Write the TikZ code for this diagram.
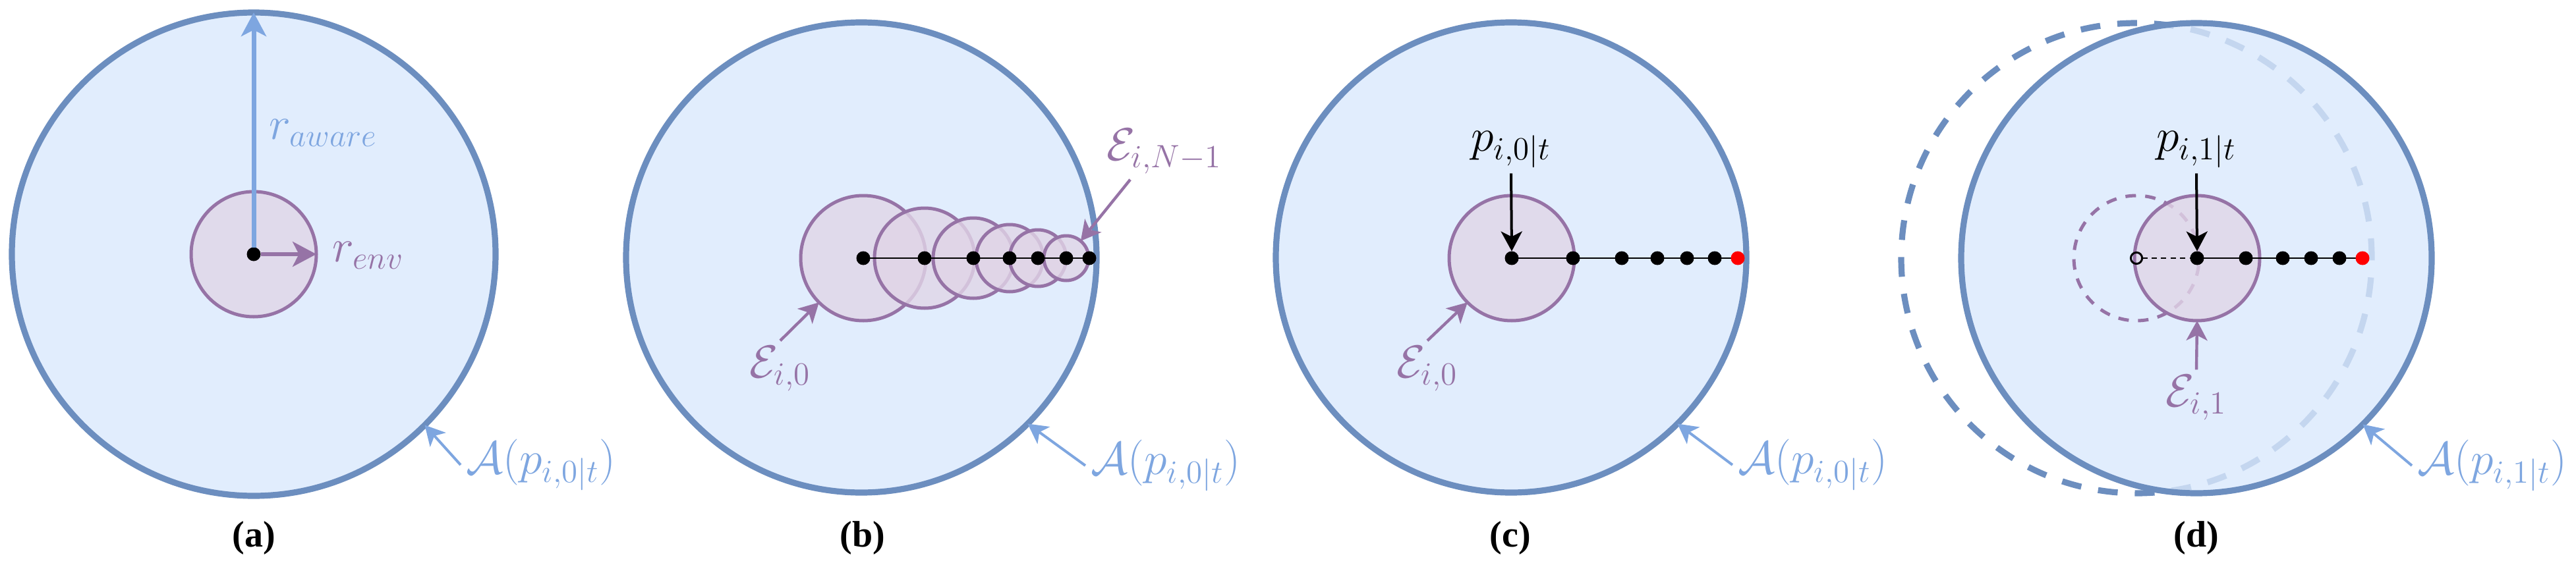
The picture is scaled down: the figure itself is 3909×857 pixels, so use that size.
\RequirePackage{fix-cm}
\documentclass[tikz,border=0pt]{standalone}
\usepackage{fontspec}
\newfontfamily\capfont{Liberation Serif}
\usetikzlibrary{arrows.meta,calc}
\definecolor{awfill}{HTML}{DAE8FC}
\definecolor{awline}{HTML}{6C8EBF}
\definecolor{awlab}{HTML}{7EA6E0}
\definecolor{envfill}{HTML}{E1D5E7}
\definecolor{envline}{HTML}{9673A6}
\tikzset{
  aware/.style={circle, draw=awline, line width=2.3pt, fill=awfill, fill opacity=0.8, inner sep=0pt, outer sep=0pt, minimum size={#1*0.5pt}},
  oldaware/.style={circle, draw=awline, line width=2.3pt, dash pattern=on 7.5pt off 6.5pt, inner sep=0pt, outer sep=0pt, minimum size={#1*0.5pt}},
  env/.style={circle, draw=envline, line width=1.25pt, fill=envfill, fill opacity=0.8, inner sep=0pt, outer sep=0pt, minimum size={#1*0.5pt}},
  oldenv/.style={circle, draw=envline, line width=1.25pt, dash pattern=on 4pt off 3.5pt, inner sep=0pt, outer sep=0pt, minimum size={#1*0.5pt}},
  dot/.style={circle, fill=black, inner sep=0pt, outer sep=0pt, minimum size=5.25pt},
  reddot/.style={dot, fill=red},
  opendot/.style={circle, draw=black, line width=0.75pt, inner sep=0pt, outer sep=0pt, minimum size=4.3pt},
  mlab/.style={inner sep=2pt, font=\fontsize{17.5}{21}\selectfont},
  alab/.style={mlab, text=awlab},
  elab/.style={mlab, text=envline},
  plab/.style={mlab, text=black},
  caption/.style={inner sep=0pt, font=\capfont\bfseries\fontsize{14}{17}\selectfont},
  bigtip/.style={-{Stealth[length=9pt,width=9.5pt,inset=2.4pt]}},
  tip/.style={-{Stealth[length=7.5pt,width=8pt,inset=2pt]}},
  aarrow/.style={tip, draw=awlab, line width=1pt},
  rarrow/.style={bigtip, draw=awlab, line width=1.75pt},
  envarrow/.style={bigtip, draw=envline, line width=1.4pt},
  earrow/.style={tip, draw=envline, line width=1.1pt},
  parrow/.style={tip, draw=black, line width=1pt},
  chain/.style={draw=black, line width=0.7pt},
  chaindash/.style={draw=black, line width=0.6pt, dash pattern=on 2pt off 1.6pt},
}
\begin{document}
\begin{tikzpicture}[x=0.25pt,y=-0.25pt]
\useasboundingbox (0,0) rectangle (3909,857);
%% ---------- (a)
\node[aware=367] (A1) at (385,386) {};
\node[env=95] (S1) at (385,386) {};
\node[dot] (c1) at (385,386) {};
\draw[rarrow] (c1) -- (A1.north);
\draw[envarrow] (c1) -- (S1.east);
\node[alab, anchor=west] (ra) at (400,202) {$r_{aware}$};
\node[elab, anchor=west] (re) at (496,388) {$r_{env}$};
\node[alab] (L1) at (821,706) {$\mathcal{A}(p_{i,0|t})$};
\draw[aarrow] (L1.west) -- (A1.-45);
\node[caption] (ca) at (385,817) {(a)};
%% ---------- (b)
\node[aware=357] (A2) at (1307,391) {};
\node[env=95] (E21) at (1310,392) {};
\node[env=76] (E22) at (1403,392) {};
\node[env=61] (E23) at (1477,392) {};
\node[env=51] (E24) at (1532,392) {};
\node[env=43] (E25) at (1575,392) {};
\node[env=34] (E26) at (1618,392) {};
\coordinate (b0) at (1310,392);
\coordinate (b6) at (1653,392);
\draw[chain] (b0) -- (b6);
\foreach \x [count=\i] in {1310,1403,1477,1532,1575,1618,1653}
  \node[dot] (bd\i) at (\x,392) {};
\node[elab] (LE20) at (1184,560) {$\mathcal{E}_{i,0}$};
\draw[earrow] (LE20.north) -- (E21.-135);
\node[elab] (LE2N) at (1767,230) {$\mathcal{E}_{i,N-1}$};
\draw[earrow] ([xshift=11pt]LE2N.south west) -- (E26.50);
\node[alab] (L2) at (1769,707) {$\mathcal{A}(p_{i,0|t})$};
\draw[aarrow] (L2.west) -- (A2.-45);
\node[caption] (cb) at (1309,817) {(b)};
%% ---------- (c)
\node[aware=357] (A3) at (2293,391) {};
\node[env=95] (S3) at (2294,392) {};
\coordinate (c0) at (2294,392);
\coordinate (c6) at (2637,392);
\draw[chain] (c0) -- (c6);
\foreach \x [count=\i] in {2294,2387,2461,2515,2560,2602}
  \node[dot] (cd\i) at (\x,392) {};
\node[reddot] (cr) at (2637,392) {};
\node[plab] (P3) at (2293,227) {$p_{i,0|t}$};
\draw[parrow] (P3.south) -- (cd1.north);
\node[elab] (LE30) at (2166,560) {$\mathcal{E}_{i,0}$};
\draw[earrow] (LE30.north) -- (S3.-135);
\node[alab] (L3) at (2751,706) {$\mathcal{A}(p_{i,0|t})$};
\draw[aarrow] (L3.west) -- (A3.-45);
\node[caption] (cc) at (2292,817) {(c)};
%% ---------- (d)
\node[oldaware=357] (A4o) at (3242,392) {};
\node[aware=357] (A4) at (3333,392) {};
\node[oldenv=95] (S4o) at (3242,392) {};
\node[env=95] (S4) at (3334,392) {};
\node[opendot] (od) at (3242,392) {};
\coordinate (d1) at (3334,392);
\coordinate (d6) at (3585,392);
\draw[chaindash] (od) -- (d1);
\draw[chain] (d1) -- (d6);
\foreach \x [count=\i] in {3334,3408,3464,3507,3550}
  \node[dot] (dd\i) at (\x,392) {};
\node[reddot] (dr) at (3585,392) {};
\node[plab] (P4) at (3333,227) {$p_{i,1|t}$};
\draw[parrow] (P4.south) -- (dd1.north);
\node[elab] (LE41) at (3333,604) {$\mathcal{E}_{i,1}$};
\draw[earrow] (LE41.north) -- (S4.south);
\node[alab] (L4) at (3782,707) {$\mathcal{A}(p_{i,1|t})$};
\draw[aarrow] (L4.west) -- (A4.-45);
\node[caption] (cd) at (3333,817) {(d)};
\end{tikzpicture}
\end{document}
